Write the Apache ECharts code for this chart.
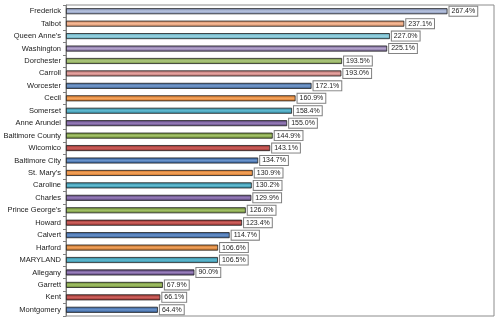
<!DOCTYPE html>
<html>
<head>
<meta charset="utf-8">
<script src="https://cdn.jsdelivr.net/npm/echarts@6/dist/echarts.min.js"></script>
<style>
html,body{margin:0;padding:0;background:#fff;}
#chart{width:500px;height:323px;}
</style>
</head>
<body>
<div id="chart"></div>
<script>
const categories = ["Frederick","Talbot","Queen Anne's","Washington","Dorchester","Carroll","Worcester","Cecil","Somerset","Anne Arundel","Baltimore County","Wicomico","Baltimore City","St. Mary's","Caroline","Charles","Prince George's","Howard","Calvert","Harford","MARYLAND","Allegany","Garrett","Kent","Montgomery"];
const values = [267.4,237.1,227.0,225.1,193.5,193.0,172.1,160.9,158.4,155.0,144.9,143.1,134.7,130.9,130.2,129.9,126.0,123.4,114.7,106.6,106.5,90.0,67.9,66.1,64.4];
const barColors = [
  ["#7a88ad","#b8c4e0"],
  ["#c9825c","#f8bb98"],
  ["#4f9db0","#9ed6e4"],
  ["#6f5d8c","#b3a3cc"],
  ["#6f8a3c","#b1cc82"],
  ["#ad6a67","#e6a3a0"],
  ["#2f5688","#7a9fd0"],
  ["#c2661c","#f9a860"],
  ["#2a7f96","#62bdd4"],
  ["#4d3a6b","#9a7fbe"],
  ["#5f7e2a","#a6c46a"],
  ["#8a2a27","#d2625f"],
  ["#2a5590","#6b94cc"],
  ["#c2661c","#f9a860"],
  ["#2a7f96","#62bdd4"],
  ["#4d3a6b","#9a7fbe"],
  ["#5f7e2a","#a6c46a"],
  ["#8a2a27","#d2625f"],
  ["#2a5590","#6b94cc"],
  ["#b86a22","#f0a05a"],
  ["#2a7f96","#62bdd4"],
  ["#4d3a6b","#9a7fbe"],
  ["#5f7e2a","#a6c46a"],
  ["#8a2a27","#d2625f"],
  ["#2a5590","#6b94cc"]
];
const chart = echarts.init(document.getElementById('chart'));
const data = values.map((v,i)=>({
  value: v,
  itemStyle: {
    color: new echarts.graphic.LinearGradient(0,0,0,1,[
      {offset:0,color:barColors[i][0]},
      {offset:0.5,color:barColors[i][1]},
      {offset:1,color:barColors[i][0]}
    ]),
    borderColor: '#222',
    borderWidth: 0.8
  }
}));
chart.setOption({
  animation:false,
  grid:{left:66,top:5,right:6,bottom:7,show:true,borderColor:'#8c8c8c',borderWidth:1,backgroundColor:'#fff'},
  xAxis:{type:'value',min:0,max:300,axisLabel:{show:false},splitLine:{show:false},axisLine:{show:false},axisTick:{show:false}},
  yAxis:{type:'category',data:categories,inverse:true,
    axisLine:{show:true,lineStyle:{color:'#7f7f7f',width:1}},
    axisTick:{show:true,length:3,lineStyle:{color:'#7f7f7f'}},
    axisLabel:{fontFamily:'Liberation Sans, Arial, sans-serif',fontSize:7.5,color:'#222',margin:5}
  },
  series:[{
    type:'bar',
    data:data,
    barWidth:6,
    label:{show:true,position:'right',distance:2,
      formatter:p=>p.value.toFixed(1)+'%',
      fontFamily:'Liberation Sans, Arial, sans-serif',fontSize:7,color:'#222',
      backgroundColor:'#fff',borderColor:'#7f7f7f',borderWidth:1,padding:[1,2,1,2]}
  }]
});
</script>
</body>
</html>
